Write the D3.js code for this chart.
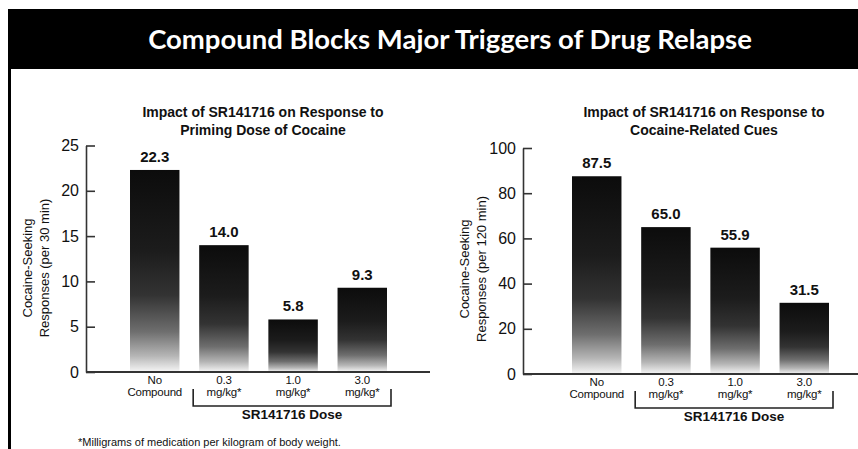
<!DOCTYPE html>
<html>
<head>
<meta charset="utf-8">
<script src="https://cdn.jsdelivr.net/npm/d3@7/dist/d3.min.js"></script>
<style>
  html, body { margin: 0; padding: 0; background: #fff; }
  svg { display: block; }
  text { font-family: "Liberation Sans", Arial, Helvetica, sans-serif; fill: #111; }
</style>
</head>
<body>
<svg id="chart" width="858" height="449"></svg>
<script>
// ---- Data ----
const mainTitle = "Compound Blocks Major Triggers of Drug Relapse";
const categories = ["No|Compound", "0.3|mg/kg*", "1.0|mg/kg*", "3.0|mg/kg*"];

const leftTitle = ["Impact of SR141716 on Response to", "Priming Dose of Cocaine"];
const leftYLabel = ["Cocaine-Seeking", "Responses (per 30 min)"];
const leftValues = [22.3, 14.0, 5.8, 9.3];
const leftTicks = [0, 5, 10, 15, 20, 25];

const rightTitle = ["Impact of SR141716 on Response to", "Cocaine-Related Cues"];
const rightYLabel = ["Cocaine-Seeking", "Responses (per 120 min)"];
const rightValues = [87.5, 65.0, 55.9, 31.5];
const rightTicks = [0, 20, 40, 60, 80, 100];

const groupLabel = "SR141716 Dose";
const footnote = "*Milligrams of medication per kilogram of body weight.";

// ---- Drawing ----
const svg = d3.select("#chart");
const defs = svg.append("defs");
const grad = defs.append("linearGradient")
  .attr("id", "barGrad").attr("x1", 0).attr("y1", 0).attr("x2", 0).attr("y2", 1);
[[0, "#0c0c0c"], [0.4, "#1c1c1c"], [0.62, "#333"], [0.8, "#6e6e6e"], [0.92, "#b5b5b5"], [1, "#f6f6f6"]]
  .forEach(([o, c]) => grad.append("stop").attr("offset", o).attr("stop-color", c));

// header band and left border
svg.append("rect").attr("x", 8).attr("y", 9).attr("width", 850).attr("height", 60).attr("fill", "#000");
svg.append("rect").attr("x", 8).attr("y", 9).attr("width", 3).attr("height", 440).attr("fill", "#000");
svg.append("text")
  .attr("x", 450).attr("y", 49).attr("text-anchor", "middle")
  .style("font-family", "Lato, 'Open Sans', sans-serif")
  .style("font-weight", "700").style("font-size", "27.5px").style("fill", "#fff")
  .text(mainTitle);

function panel(cfg) {
  const g = svg.append("g");
  const y = d3.scaleLinear().domain([0, cfg.max]).range([cfg.y0, cfg.yTop]);
  const x = d3.scaleBand().domain(categories)
    .range([cfg.axisX + cfg.r0, cfg.axisX + cfg.r1])
    .paddingInner(0.285).paddingOuter(0);

  // title
  cfg.title.forEach((t, i) => {
    g.append("text").attr("x", cfg.titleX).attr("y", 117 + i * 18)
      .attr("text-anchor", "middle").style("font-weight", "700").style("font-size", "14px")
      .text(t);
  });

  // y label
  cfg.ylabel.forEach((t, i) => {
    g.append("text")
      .attr("transform", `translate(${cfg.ylabX[i]},${cfg.ylabY}) rotate(-90)`)
      .attr("text-anchor", "middle").style("font-size", "13px").text(t);
  });

  // bars
  g.selectAll("rect.bar").data(cfg.values).join("rect")
    .attr("class", "bar")
    .attr("x", (d, i) => x(categories[i]))
    .attr("y", d => y(d))
    .attr("width", x.bandwidth())
    .attr("height", d => cfg.y0 - y(d))
    .attr("fill", "url(#barGrad)");

  // value labels
  g.selectAll("text.val").data(cfg.values).join("text")
    .attr("class", "val")
    .attr("x", (d, i) => x(categories[i]) + x.bandwidth() / 2)
    .attr("y", d => y(d) - 8)
    .attr("text-anchor", "middle").style("font-weight", "700").style("font-size", "15px")
    .text(d => d.toFixed(1));

  // y axis
  const ax = g.append("g").attr("transform", `translate(${cfg.axisX},0)`)
    .call(d3.axisLeft(y).tickValues(cfg.ticks).tickSizeInner(-9).tickSizeOuter(0).tickPadding(7));
  ax.select(".domain").attr("stroke", "#333").attr("stroke-width", 1.6);
  ax.selectAll(".tick line").attr("stroke", "#333").attr("stroke-width", 1.6);
  ax.selectAll(".tick text").style("font-size", "16px").style("font-family", "'Liberation Sans', Arial, sans-serif").attr("fill", "#111");

  // baseline
  g.append("line").attr("x1", cfg.axisX).attr("x2", cfg.baseEnd)
    .attr("y1", cfg.y0).attr("y2", cfg.y0).attr("stroke", "#333").attr("stroke-width", 1.8);

  // category labels
  categories.forEach(c => {
    const parts = c.split("|");
    parts.forEach((p, j) => {
      g.append("text").attr("x", x(c) + x.bandwidth() / 2).attr("y", cfg.y0 + 12 + j * 12)
        .attr("text-anchor", "middle").style("font-size", "11.5px").style("letter-spacing", "-0.2px").text(p);
    });
  });

  // bracket
  const bx1 = x(categories[1]) - 6, bx2 = x(categories[3]) + x.bandwidth() + 4;
  const by1 = cfg.y0 + 17, by2 = cfg.y0 + 34;
  g.append("path").attr("d", `M${bx1},${by1}V${by2}H${bx2}V${by1}`)
    .attr("fill", "none").attr("stroke", "#222").attr("stroke-width", 1.6);
  g.append("text").attr("x", (bx1 + bx2) / 2).attr("y", cfg.y0 + 47)
    .attr("text-anchor", "middle").style("font-weight", "700").style("font-size", "13.5px")
    .text(groupLabel);
}

panel({
  title: leftTitle, titleX: 263, ylabel: leftYLabel, ylabX: [32, 49], ylabY: 268,
  values: leftValues, ticks: leftTicks, max: 25,
  axisX: 86, y0: 372, yTop: 145.5, r0: 44, r1: 301, baseEnd: 430
});
panel({
  title: rightTitle, titleX: 704, ylabel: rightYLabel, ylabX: [469, 486], ylabY: 269,
  values: rightValues, ticks: rightTicks, max: 100,
  axisX: 523, y0: 374, yTop: 148, r0: 49, r1: 306, baseEnd: 858
});

svg.append("text").attr("x", 78).attr("y", 446).style("font-size", "11px").text(footnote);
</script>
</body>
</html>
